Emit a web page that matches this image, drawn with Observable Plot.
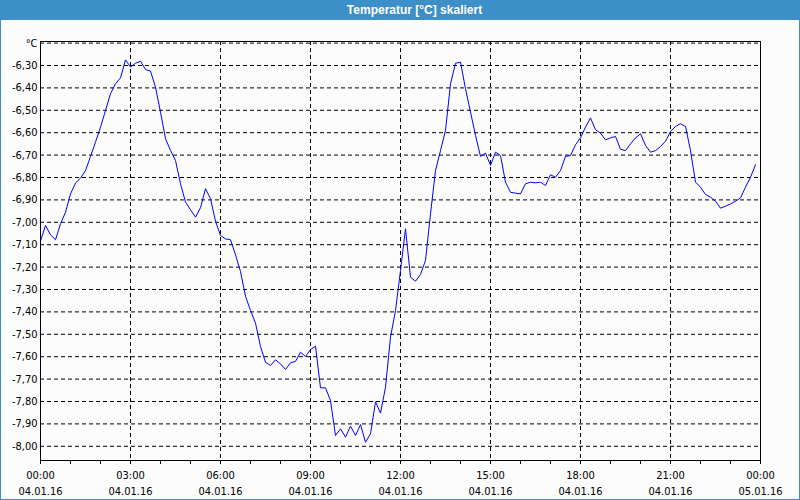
<!DOCTYPE html>
<html>
<head>
<meta charset="utf-8">
<script src="https://cdn.jsdelivr.net/npm/d3@7"></script>
<script src="https://cdn.jsdelivr.net/npm/@observablehq/plot@0.6"></script>
<style>
  html, body { margin: 0; padding: 0; background: #fbfcfb; }
  #wrap { position: relative; width: 800px; height: 500px; background: #fbfcfb; overflow: hidden; }
  #title { position: absolute; left: 0; top: 0; width: 800px; height: 20px; box-sizing: border-box;
           background: #3c8fc7; color: #ffffff; font: bold 12px "Liberation Sans", Arial, sans-serif;
           line-height: 20px; text-align: center; padding-left: 29px; }
  #chart { position: absolute; left: 0; top: 20px; width: 800px; height: 480px; }
  #border { position: absolute; left: 0; top: 0; width: 800px; height: 500px; box-sizing: border-box;
            border: 1px solid #3c8fc7; border-top: none; pointer-events: none; }
</style>
</head>
<body>
<div id="wrap">
  <div id="title">Temperatur [°C] skaliert</div>
  <div id="chart"></div>
  <div id="border"></div>
</div>
<script>
// Sampling: one reading every 10 minutes on 04.01.16
const sampleMinutes = d3.range(0, 1440, 10);

// Temperature [°C]
const temperature = [
  -7.084, -7.014, -7.056, -7.078, -7.007, -6.955, -6.873, -6.825, -6.803, -6.769, -6.706, -6.642,
  -6.575, -6.501, -6.426, -6.382, -6.355, -6.275, -6.307, -6.290, -6.281, -6.318, -6.325, -6.397,
  -6.508, -6.627, -6.679, -6.724, -6.828, -6.910, -6.944, -6.977, -6.935, -6.850, -6.895, -6.995,
  -7.059, -7.074, -7.078, -7.145, -7.220, -7.330, -7.394, -7.450, -7.555, -7.625, -7.639, -7.614,
  -7.632, -7.657, -7.627, -7.621, -7.580, -7.599, -7.568, -7.553, -7.739, -7.739, -7.796, -7.952,
  -7.922, -7.959, -7.910, -7.952, -7.903, -7.982, -7.944, -7.801, -7.852, -7.736, -7.513, -7.394,
  -7.215, -7.029, -7.245, -7.263, -7.233, -7.170, -6.962, -6.769, -6.680, -6.590, -6.382, -6.290,
  -6.285, -6.404, -6.508, -6.612, -6.706, -6.691, -6.746, -6.687, -6.702, -6.821, -6.866, -6.870,
  -6.873, -6.828, -6.821, -6.824, -6.821, -6.836, -6.788, -6.799, -6.769, -6.706, -6.702, -6.654,
  -6.623, -6.575, -6.534, -6.587, -6.602, -6.632, -6.623, -6.617, -6.674, -6.680, -6.650, -6.623,
  -6.605, -6.657, -6.687, -6.680, -6.662, -6.638, -6.595, -6.572, -6.560, -6.572, -6.680, -6.821,
  -6.843, -6.876, -6.888, -6.906, -6.937, -6.928, -6.918, -6.906, -6.891, -6.843, -6.799, -6.743
];

// Y axis ticks and labels
const yTicks = [-8.0, -7.9, -7.8, -7.7, -7.6, -7.5, -7.4, -7.3, -7.2, -7.1, -7.0,
                -6.9, -6.8, -6.7, -6.6, -6.5, -6.4, -6.3, -6.2];
const yTickLabels = ["-8,00", "-7,90", "-7,80", "-7,70", "-7,60", "-7,50", "-7,40", "-7,30", "-7,20", "-7,10", "-7,00",
                     "-6,90", "-6,80", "-6,70", "-6,60", "-6,50", "-6,40", "-6,30", "°C"];

// X axis (hours since 04.01.16 00:00)
const minorHours = [0,1,2,3,4,5,6,7,8,9,10,11,12,13,14,15,16,17,18,19,20,21,22,23,24];
const labelHours = [0, 3, 6, 9, 12, 15, 18, 21, 24];
const gridHours = [3, 6, 9, 12, 15, 18, 21];
const timeLabels = ["00:00", "03:00", "06:00", "09:00", "12:00", "15:00", "18:00", "21:00", "00:00"];
const dateLabels = ["04.01.16", "04.01.16", "04.01.16", "04.01.16", "04.01.16", "04.01.16", "04.01.16", "04.01.16", "05.01.16"];

const data = sampleMinutes.map((m, i) => ({h: m / 60, v: temperature[i]}));
const yLabelMap = new Map(yTicks.map((t, i) => [t, yTickLabels[i]]));
const timeMap = new Map(labelHours.map((t, i) => [t, timeLabels[i]]));
const dateMap = new Map(labelHours.map((t, i) => [t, dateLabels[i]]));

const chart = Plot.plot({
  width: 800,
  height: 480,
  marginLeft: 40,
  marginRight: 40,
  marginTop: 21,
  marginBottom: 40,
  style: {
    background: "transparent",
    fontFamily: '"DejaVu Sans Condensed", "DejaVu Sans", sans-serif',
    fontSize: "11px",
    color: "black",
    overflow: "visible"
  },
  x: {domain: [0, 24], axis: null, label: null},
  y: {domain: [-8.0634, -6.1929], axis: null, label: null},
  marks: [
    Plot.gridY(yTicks, {stroke: "black", strokeOpacity: 1, strokeDasharray: "4,3"}),
    Plot.gridX(gridHours, {stroke: "black", strokeOpacity: 1, strokeDasharray: "4,3"}),
    Plot.line(data, {x: "h", y: "v", stroke: "#0000ff", strokeWidth: 1}),
    Plot.frame({stroke: "black", strokeWidth: 1}),
    Plot.axisY(yTicks, {label: null, tickSize: 0, tickPadding: 3, tickFormat: d => yLabelMap.get(d), fill: "black"}),
    Plot.axisX(minorHours, {label: null, tickSize: 4, tickFormat: () => "", stroke: "black"}),
    Plot.axisX(labelHours, {label: null, tickSize: 0, tickPadding: 11, tickFormat: d => timeMap.get(d), fill: "black"}),
    Plot.axisX(labelHours, {label: null, tickSize: 0, tickPadding: 27, tickFormat: d => dateMap.get(d), fill: "black"})
  ]
});
document.getElementById("chart").appendChild(chart);
</script>
</body>
</html>
